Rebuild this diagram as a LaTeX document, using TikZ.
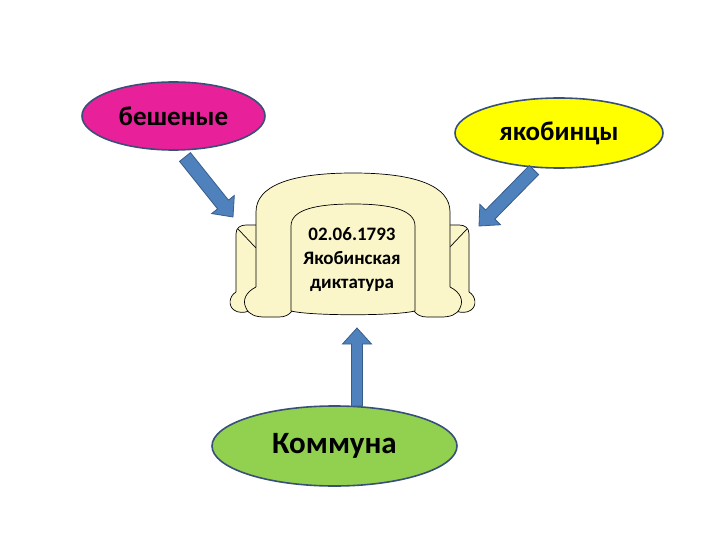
\documentclass[tikz,border=0pt]{standalone}
\usepackage{fontspec}
\setmainfont{Carlito}
\usetikzlibrary{shapes.geometric,calc}
\definecolor{magentaF}{RGB}{232,32,154}
\definecolor{yellowF}{RGB}{255,255,0}
\definecolor{greenF}{RGB}{146,208,80}
\definecolor{ovalLine}{RGB}{56,80,120}
\definecolor{arrowF}{RGB}{79,129,189}
\definecolor{arrowL}{RGB}{56,93,138}
\definecolor{chairF}{RGB}{250,246,202}
\tikzset{
  oval/.style={ellipse, draw=ovalLine, line width=1.6pt, inner sep=0pt},
  chair/.style={draw=black, line width=0.7pt, fill=chairF, line join=round},
  chairline/.style={draw=black, line width=0.7pt, line join=round},
  barrow/.style={fill=arrowF, draw=arrowL, line width=0.8pt, line join=miter},
}
% block arrow: #1 tail, #2 tip, #3 shaft half width
\newcommand\blockarrow[3]{%
  \coordinate (ba-c) at ($(#2)!16pt!(#1)$);
  \draw[barrow] ($(#1)!#3!90:(#2)$) -- ($(ba-c)!#3!90:(#2)$) -- ($(ba-c)!14.5pt!90:(#2)$)
    -- (#2) -- ($(ba-c)!14.5pt!-90:(#2)$) -- ($(ba-c)!#3!-90:(#2)$) -- ($(#1)!#3!-90:(#2)$) -- cycle;}
% left half parts of the armchair (mirrored for the right side)
\newcommand\chairarm{%
  \draw[chair] (258,300) -- (236,300) -- (236,234) .. controls (236,228) and (240,225) .. (246,225) -- (258,225) -- cycle;
  \draw[chairline] (238,229) -- (256,248);}
\newcommand\chairsmalllobe{%
  \fill[chairF] (236,292) .. controls (229,296) and (228,306) .. (234,310)
     .. controls (238,313) and (244,313) .. (249,311) -- (249,292) -- cycle;
  \draw[chairline] (236,292) .. controls (229,296) and (228,306) .. (234,310)
     .. controls (238,313) and (244,313) .. (249,311);}
\newcommand\chairbiglobe{%
  \fill[chairF] (256,287) .. controls (246,292) and (242,300) .. (246,308)
     .. controls (249,315) and (256,317) .. (265,317) -- (279,317)
     .. controls (285,317) and (289,315) .. (292,311) -- (292,287) -- cycle;
  \draw[chairline] (256,287) .. controls (246,292) and (242,300) .. (246,308)
     .. controls (249,315) and (256,317) .. (265,317) -- (279,317)
     .. controls (285,317) and (289,315) .. (292,311);}
\begin{document}
\begin{tikzpicture}[x=1pt,y=-1pt]
\useasboundingbox (0,0) rectangle (720,540);
\fill[white] (0,0) rectangle (720,540);

% ovals
\node[oval, fill=magentaF, minimum width=183pt, minimum height=68pt,
      font=\bfseries\fontsize{27}{32}\selectfont] (besh) at (173.5,116) {бешеные};
\node[oval, fill=yellowF, minimum width=208pt, minimum height=70pt,
      font=\bfseries\fontsize{27}{32}\selectfont] (jak) at (559,133) {якобинцы};
\node[oval, fill=greenF, minimum width=245pt, minimum height=80pt,
      font=\bfseries\fontsize{31}{36}\selectfont] (komm) at (334.5,446) {Коммуна};

% armchair: arms
\chairarm
\begin{scope}[shift={(705,0)}, xscale=-1]\chairarm\end{scope}
% back
\draw[chair] (256,306) -- (256,212) .. controls (256,186) and (290,173) .. (353,173)
  .. controls (416,173) and (450,186) .. (450,212) -- (450,306) -- cycle;
% feet
\chairsmalllobe
\begin{scope}[shift={(705,0)}, xscale=-1]\chairsmalllobe\end{scope}
\chairbiglobe
\begin{scope}[shift={(706,0)}, xscale=-1]\chairbiglobe\end{scope}
% cushion
\draw[chair] (291,311) -- (291,226) .. controls (291,209) and (318,204) .. (353,204)
  .. controls (388,204) and (415,209) .. (415,226) -- (415,311)
  .. controls (395,316) and (311,316) .. (291,311) -- cycle;
\node[align=center, font=\bfseries\fontsize{19}{24}\selectfont] (dict) at (352,260)
  {02.06.1793\\Якобинская\\диктатура};

% arrows
\coordinate (a1s) at (185,157);
\coordinate (a1e) at (233,217);
\coordinate (a2s) at (534,170);
\coordinate (a2e) at (479,226);
\coordinate (a3s) at (357,406);
\coordinate (a3e) at (357,328);
\blockarrow{a1s}{a1e}{7pt}
\blockarrow{a2s}{a2e}{6.5pt}
\blockarrow{a3s}{a3e}{5.5pt}
\end{tikzpicture}
\end{document}
